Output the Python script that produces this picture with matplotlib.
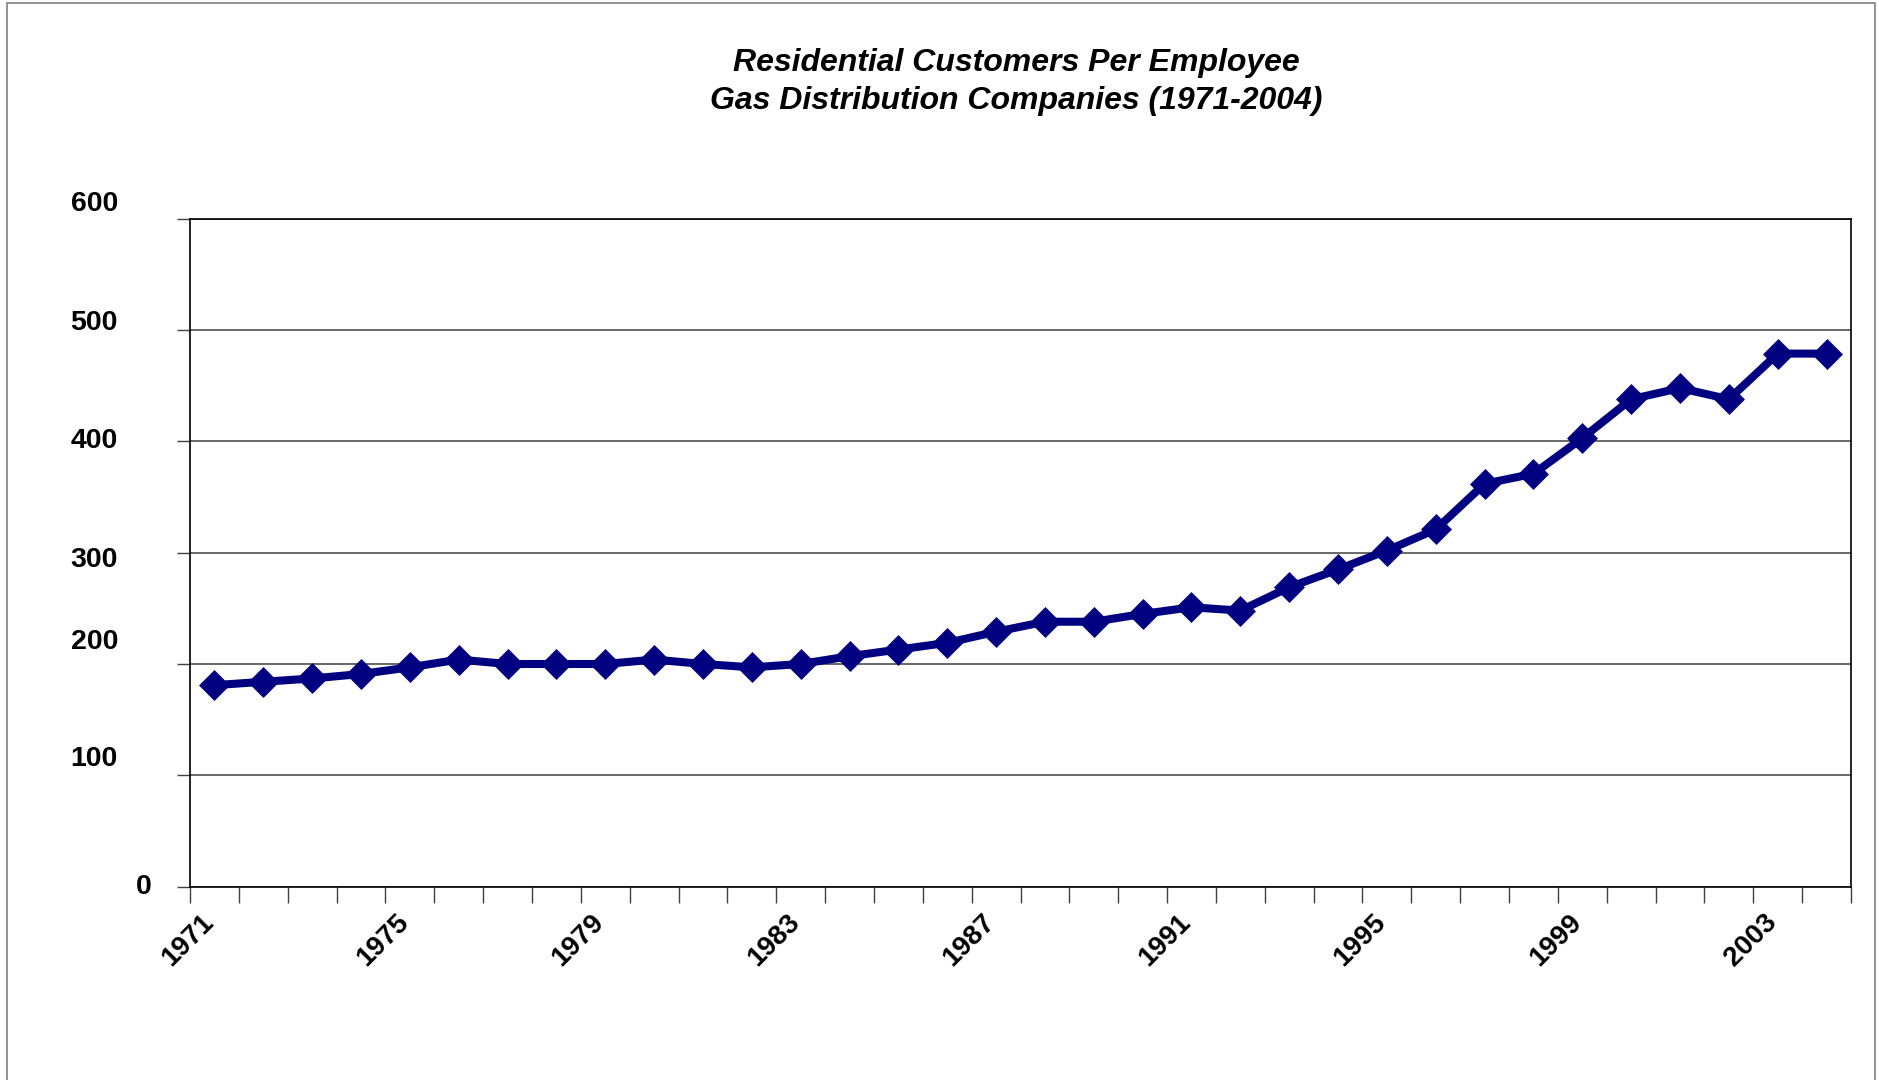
import matplotlib
matplotlib.use("Agg")
import matplotlib.pyplot as plt
from matplotlib.transforms import ScaledTranslation
from matplotlib.patches import Rectangle

years = list(range(1971, 2005))
customers_per_employee = [181, 184, 187, 191, 197, 204, 200, 200, 200, 204,
                          200, 197, 200, 207, 213, 219, 229, 238, 238, 245,
                          251, 248, 269, 285, 302, 321, 362, 371, 403, 438,
                          448, 438, 479, 479]
y_ticks = [0, 100, 200, 300, 400, 500, 600]
y_tick_labels = ["0", "100", "200", "300", "400", "500", "600"]
x_label_years = [1971, 1975, 1979, 1983, 1987, 1991, 1995, 1999, 2003]
title_lines = ["Residential Customers Per Employee",
               "Gas Distribution Companies (1971-2004)"]

# label offsets (pixels) mimicking the original placement
y_label_dx = [-38, -72, -72, -72, -72, -72, -72]
y_label_dy = [0, 16, 22, -7, 0, 7, 15]

plt.rcParams['font.family'] = ['Liberation Sans', 'DejaVu Sans']

DPI = 100
fig = plt.figure(figsize=(18.79, 10.80), dpi=DPI)
fig.patch.set_facecolor('white')

# outer frame
fig.patches.append(Rectangle((7 / 1879, -0.05), (1875 - 7) / 1879, 1.05 - 3 / 1080,
                             transform=fig.transFigure, fill=False,
                             edgecolor='#808080', linewidth=1.2))

ax = fig.add_axes([190 / 1879, 193.5 / 1080, (1851 - 190) / 1879, (886.5 - 219) / 1080])

ax.plot(years, customers_per_employee, color='#000080', linewidth=5.8,
        marker='D', markersize=15, markerfacecolor='#000080',
        markeredgecolor='#000080', markeredgewidth=0.5, zorder=3, clip_on=False)

ax.set_xlim(years[0] - 0.5, years[-1] + 0.5)
ax.set_ylim(0, 600)

# gridlines
ax.set_yticks(y_ticks)
ax.set_yticklabels([])
ax.yaxis.grid(True, color='#404040', linewidth=1.1)
ax.tick_params(axis='y', direction='out', length=9.4, width=1, color='#404040')

for v, lab, dx, dy in zip(y_ticks, y_tick_labels, y_label_dx, y_label_dy):
    tr = ax.get_yaxis_transform() + ScaledTranslation(dx / DPI, dy / DPI, fig.dpi_scale_trans)
    ax.text(0, v, lab, transform=tr, ha='right', va='center',
            fontsize=20.5, fontweight='bold', color='black')

# x ticks: minor at category boundaries, labels at category centers
ax.set_xticks([y - 0.5 for y in years] + [years[-1] + 0.5], minor=True)
ax.set_xticks(x_label_years)
ax.set_xticklabels([str(y) for y in x_label_years], rotation=45,
                   ha='right', va='baseline', rotation_mode='anchor',
                   fontsize=20, fontweight='bold')
ax.tick_params(axis='x', which='minor', direction='out', length=11.3, width=1, color='#404040')
ax.tick_params(axis='x', which='major', length=0, pad=26.4)

for s in ax.spines.values():
    s.set_color('black')
    s.set_linewidth(1.2)

for i, line in enumerate(title_lines):
    fig.text(1016 / 1879, 1 - (63 + 38 * i) / 1080, line, ha='center', va='center',
             fontsize=23, fontweight='bold', fontstyle='italic', color='black')

fig.savefig('out.png', dpi=DPI, facecolor='white')
